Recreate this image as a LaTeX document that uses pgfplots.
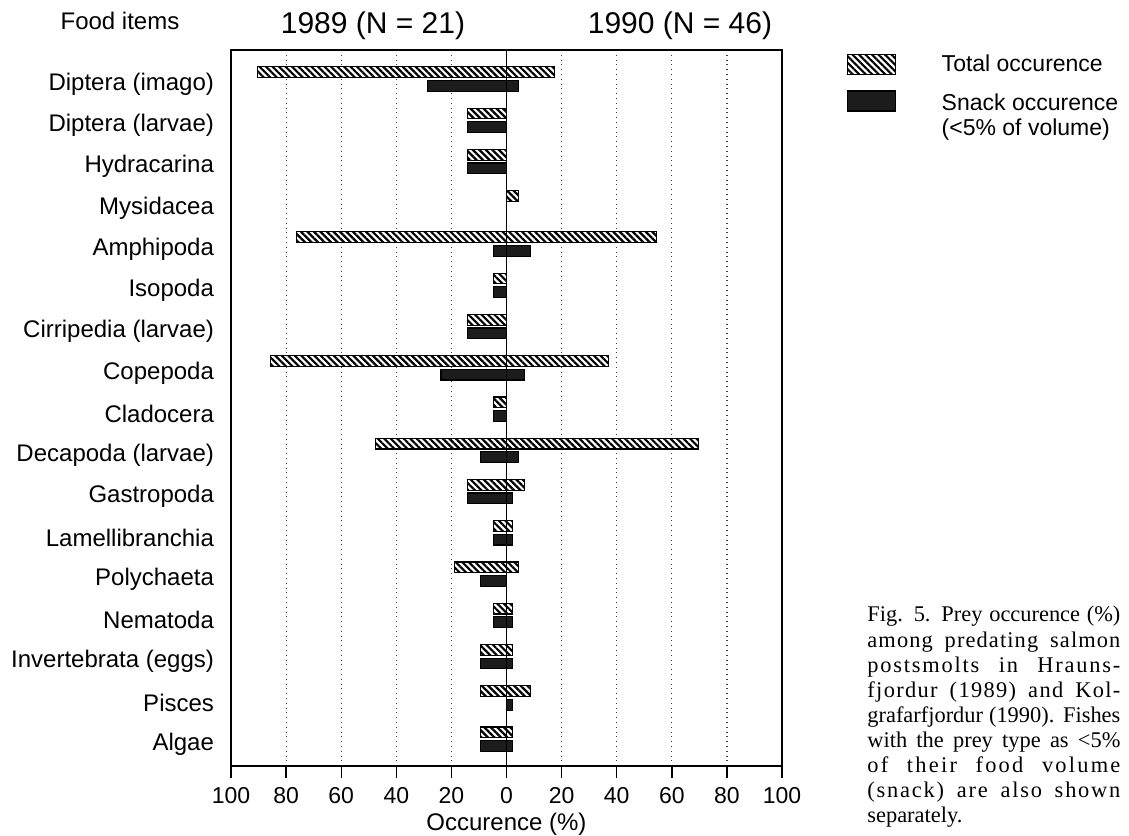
\documentclass[border=0pt]{standalone}
\usepackage{fontspec}
\setmainfont{Liberation Sans}
\newfontfamily\capfont{Liberation Serif}
\usepackage{pgfplots}
\pgfplotsset{compat=1.18}
\usetikzlibrary{patterns.meta}
\definecolor{snack}{HTML}{1C1C1C}
\newcommand\ls[2]{{\addfontfeature{LetterSpace=#1}#2}}
\begin{document}
\begin{tikzpicture}
\path[use as bounding box] (0,0) rectangle (564.5pt,-417.5pt);
\begin{axis}[
  at={(115.5pt,-383pt)}, anchor=south west,
  scale only axis, width=275.5pt, height=358pt,
  xmin=-100, xmax=100, ymin=-0.703, ymax=16.65,
  y dir=reverse,
  xtick={-100,-80,...,100},
  xticklabels={100,80,60,40,20,0,20,40,60,80,100},
  ytick={0,...,16},
  yticklabels={Diptera (imago),Diptera (larvae),Hydracarina,Mysidacea,Amphipoda,Isopoda,Cirripedia (larvae),Copepoda,Cladocera,Decapoda (larvae),Gastropoda,Lamellibranchia,Polychaeta,Nematoda,Invertebrata (eggs),Pisces,Algae},
  xtick pos=bottom, ytick pos=left,
  tick align=outside,
  major tick length=6pt,
  ytick style={draw=none},
  xtick style={line width=0.7pt, black},
  xmajorgrids,
  grid style={dotted, line width=0.6pt, black!75},
  axis line style={line width=0.7pt},
  /pgf/number format/assume math mode=true,
  xticklabel style={font=\fontsize{11.5}{13}\selectfont, yshift=-1pt},
  yticklabel style={font=\fontsize{12}{14}\selectfont, xshift=1pt, yshift=-2.5pt},
  xlabel={Occurence (\%)},
  xlabel style={font=\fontsize{12}{14}\selectfont, yshift=2pt},
  legend style={at={(1.1164,1.0)}, anchor=north west, draw=none, fill=none,
    font=\fontsize{11.5}{13.8}\selectfont, inner sep=0pt, row sep=-1.5pt,
    column sep=21pt},
  legend cell align=left,
]
% Total occurrence 1989 (left) and 1990 (right)
\addplot[xbar, bar width=0.26, bar shift=-0.165, draw=black, line width=0.6pt,
  fill=white, postaction={pattern={Lines[angle=-45,distance=2.3pt,line width=1.1pt]}}, forget plot]
  coordinates {(-90.5,0) (-14.3,1) (-14.3,2) (-76.2,4) (-4.8,5) (-14.3,6) (-85.7,7) (-4.8,8) (-47.6,9) (-14.3,10) (-4.8,11) (-19.0,12) (-4.8,13) (-9.5,14) (-9.5,15) (-9.5,16)};
\addplot[xbar, bar width=0.26, bar shift=-0.165, draw=black, line width=0.6pt,
  fill=white, postaction={pattern={Lines[angle=-45,distance=2.3pt,line width=1.1pt]}}, forget plot]
  coordinates {(17.4,0) (4.3,3) (54.3,4) (37.0,7) (69.6,9) (6.5,10) (2.2,11) (4.3,12) (2.2,13) (2.2,14) (8.7,15) (2.2,16)};
% Snack occurrence 1989 (left) and 1990 (right)
\addplot[xbar, bar width=0.26, bar shift=0.165, draw=black, line width=0.6pt, fill=snack, forget plot]
  coordinates {(-28.6,0) (-14.3,1) (-14.3,2) (-4.8,4) (-4.8,5) (-14.3,6) (-23.8,7) (-4.8,8) (-9.5,9) (-14.3,10) (-4.8,11) (-9.5,12) (-4.8,13) (-9.5,14) (-9.5,16)};
\addplot[xbar, bar width=0.26, bar shift=0.165, draw=black, line width=0.6pt, fill=snack, forget plot]
  coordinates {(4.3,0) (8.7,4) (6.5,7) (4.3,9) (2.2,10) (2.2,11) (2.2,13) (2.2,14) (2.2,15) (2.2,16)};
\draw[line width=0.7pt] (axis cs:0,-0.703) -- (axis cs:0,16.65);
\addlegendimage{legend image code/.code={\draw[draw=black,line width=0.6pt,fill=white,postaction={pattern={Lines[angle=-45,distance=2.3pt,line width=1.1pt]}}] (0pt,-1.25pt) rectangle (24pt,8.75pt);}}
\addlegendentry[text depth=9pt]{Total occurence}
\addlegendimage{legend image code/.code={\draw[draw=black,line width=0.6pt,fill=snack] (0pt,-3.5pt) rectangle (24pt,6.5pt);}}
\addlegendentry{Snack occurence}
\addlegendimage{empty legend}
\addlegendentry{(<5\% of volume)}
\end{axis}
\node[anchor=base, font=\fontsize{12}{14}\selectfont] at (60pt,-14.5pt) {Food items};
\node[anchor=base, font=\fontsize{15}{18}\selectfont] at (186.5pt,-16.5pt) {1989 (N = 21)};
\node[anchor=base, font=\fontsize{15}{18}\selectfont] at (340pt,-16.5pt) {1990 (N = 46)};
\node[anchor=north west, align=left, inner sep=0pt, font=\capfont\fontsize{11.2}{12.56}\selectfont] at (433.5pt,-303pt) {%
\makebox[126.5pt][s]{Fig. 5. Prey occurence (\%)}\\
\makebox[126.5pt][s]{\ls{5}{among predating salmon}}\\
\makebox[126.5pt][s]{\ls{8}{postsmolts in Hrauns-}}\\
\makebox[126.5pt][s]{\ls{6}{fjordur (1989) and Kol-}}\\
\makebox[126.5pt][s]{grafarfjordur (1990). Fishes}\\
\makebox[126.5pt][s]{with the prey type as <5\%}\\
\makebox[126.5pt][s]{\ls{10}{of their food volume}}\\
\makebox[126.5pt][s]{\ls{8}{(snack) are also shown}}\\
separately.};
\end{tikzpicture}
\end{document}
